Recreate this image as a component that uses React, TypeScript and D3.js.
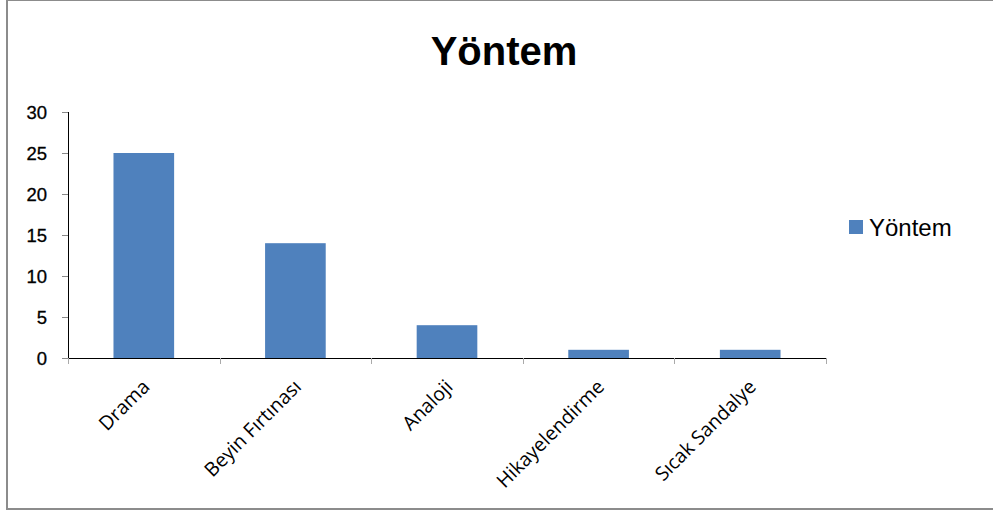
import React from 'react';
import * as d3 from 'd3';

const categories = ['Drama', 'Beyin Fırtınası', 'Analoji', 'Hikayelendirme', 'Sıcak Sandalye'];
const values = [25, 14, 4, 1, 1];
const yTicks = [0, 5, 10, 15, 20, 25, 30];
const seriesName = 'Yöntem';

const W = 993;
const H = 511;
const margin = { left: 68, right: 167, top: 112, bottom: 153 };
const barColor = '#4F81BD';

const App = () => {
  const x = d3.scaleBand<string>()
    .domain(categories)
    .range([margin.left, W - margin.right])
    .paddingInner(0.6)
    .paddingOuter(0.3);
  const step = x.step();
  const y = d3.scaleLinear().domain([0, 30]).range([H - margin.bottom, margin.top]);
  const y0 = y(0);
  const xEnd = W - margin.right;

  // category boundaries for the tick marks
  const bounds = d3.range(categories.length + 1).map((i) => margin.left + i * step);

  return (
    <svg width={W} height={H} style={{ position: 'absolute', left: 0, top: 0, background: '#fff' }}>
      <rect x={7} y={0} width={W + 10} height={509} fill="#fff" stroke="#8c8c8c" strokeWidth={2} />

      <text x={504} y={65} textAnchor="middle" fontFamily="Liberation Sans, Arial, sans-serif" fontWeight="bold" fontSize={40}>
        {seriesName}
      </text>

      {values.map((v, i) => (
        <rect key={categories[i]} x={x(categories[i])} y={y(v)} width={x.bandwidth()} height={y0 - y(v)} fill={barColor} />
      ))}

      {/* y axis */}
      <line x1={margin.left + 0.5} x2={margin.left + 0.5} y1={y(30)} y2={y0} stroke="#000" />
      {yTicks.map((t) => (
        <g key={t}>
          <line x1={margin.left - 6} x2={margin.left} y1={Math.round(y(t)) + 0.5} y2={Math.round(y(t)) + 0.5} stroke="#888" />
          <text x={47} y={y(t) + 6.5} textAnchor="end" fontFamily="Liberation Sans, Arial, sans-serif" fontSize={18.5}
            stroke="#000" strokeWidth={0.3}>{t}</text>
        </g>
      ))}

      {/* x axis */}
      <line x1={margin.left} x2={xEnd} y1={Math.round(y0) + 0.5} y2={Math.round(y0) + 0.5} stroke="#000" />
      {bounds.map((b, i) => (
        <line key={i} x1={Math.round(b) + 0.5} x2={Math.round(b) + 0.5} y1={y0} y2={y0 + 6} stroke="#aaa" />
      ))}
      {categories.map((c) => {
        const cx = (x(c) as number) + x.bandwidth() / 2;
        return (
          <text key={c} transform={`translate(${cx + 7},${y0 + 30}) rotate(-45)`} textAnchor="end"
            fontFamily="Open Sans, sans-serif" fontSize={19.5}>
            {c}
          </text>
        );
      })}

      {/* legend */}
      <rect x={849} y={220} width={14} height={14} fill={barColor} />
      <text x={869} y={236} fontFamily="Liberation Sans, Arial, sans-serif" fontSize={24}>{seriesName}</text>
    </svg>
  );
};

export default App;
